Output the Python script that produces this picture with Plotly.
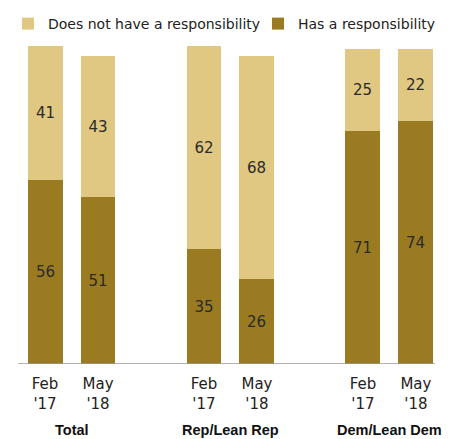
import plotly.graph_objects as go

positions = [0, 1, 3, 4, 6, 7]
tick_labels = ["Feb<br>'17", "May<br>'18", "Feb<br>'17", "May<br>'18", "Feb<br>'17", "May<br>'18"]
groups = ["Total", "Rep/Lean Rep", "Dem/Lean Dem"]
group_centers = [0.5, 3.5, 6.5]
has_resp = [56, 51, 35, 26, 71, 74]
not_resp = [41, 43, 62, 68, 25, 22]

LIGHT = "#E0C882"
DARK = "#9A7B22"
FONT = "DejaVu Sans, sans-serif"
BOLD_FONT = "Liberation Sans, Arial, sans-serif"

W, H = 443, 431  # page body adds 8px offset

fig = go.Figure()
fig.add_trace(go.Bar(
    x=positions, y=not_resp, base=has_resp, name="Does not have a responsibility",
    marker=dict(color=LIGHT, line=dict(width=0)), width=0.66,
    text=not_resp, textposition="inside", insidetextanchor="middle",
    textfont=dict(color="#2a2a2a", size=15, family=FONT), legend="legend",
))
fig.add_trace(go.Bar(
    x=positions, y=has_resp, name="Has a responsibility",
    marker=dict(color=DARK, line=dict(width=0)), width=0.66,
    text=has_resp, textposition="inside", insidetextanchor="middle",
    textfont=dict(color="#2a2a2a", size=15, family=FONT), legend="legend2",
))

for g, c in zip(groups, group_centers):
    fig.add_annotation(x=c, y=-66 / 328, xref="x", yref="paper", text="<b>" + g + "</b>",
                       showarrow=False, font=dict(size=14.5, family=BOLD_FONT, color="#111111"),
                       yanchor="middle")

legend_common = dict(orientation="h", xref="container", yref="container",
                     xanchor="left", y=(H - 16) / H, yanchor="middle",
                     font=dict(size=14, family=FONT, color="#222222"), itemwidth=30,
                     bgcolor="rgba(0,0,0,0)")

fig.update_layout(
    barmode="overlay",
    width=W, height=H,
    margin=dict(l=10, r=16, t=28, b=75, autoexpand=False),
    paper_bgcolor="white", plot_bgcolor="white",
    font=dict(family=FONT, size=15, color="#222222"),
    showlegend=True,
    legend=dict(x=0.0, **legend_common),
    legend2=dict(x=250 / W, **legend_common),
    xaxis=dict(range=[-0.51, 7.36], tickvals=positions, ticktext=tick_labels,
               showgrid=False, zeroline=False, showline=False, ticks="",
               ticklabelstandoff=9,
               tickfont=dict(size=15, family=FONT, color="#222222")),
    yaxis=dict(range=[0, 100], visible=False, showgrid=False, zeroline=False),
    bargap=0,
)
fig.add_shape(type="line", xref="paper", yref="y", x0=0, x1=1, y0=0, y1=0,
              line=dict(color="#999999", width=1.5))

fig.write_html("out.html")
